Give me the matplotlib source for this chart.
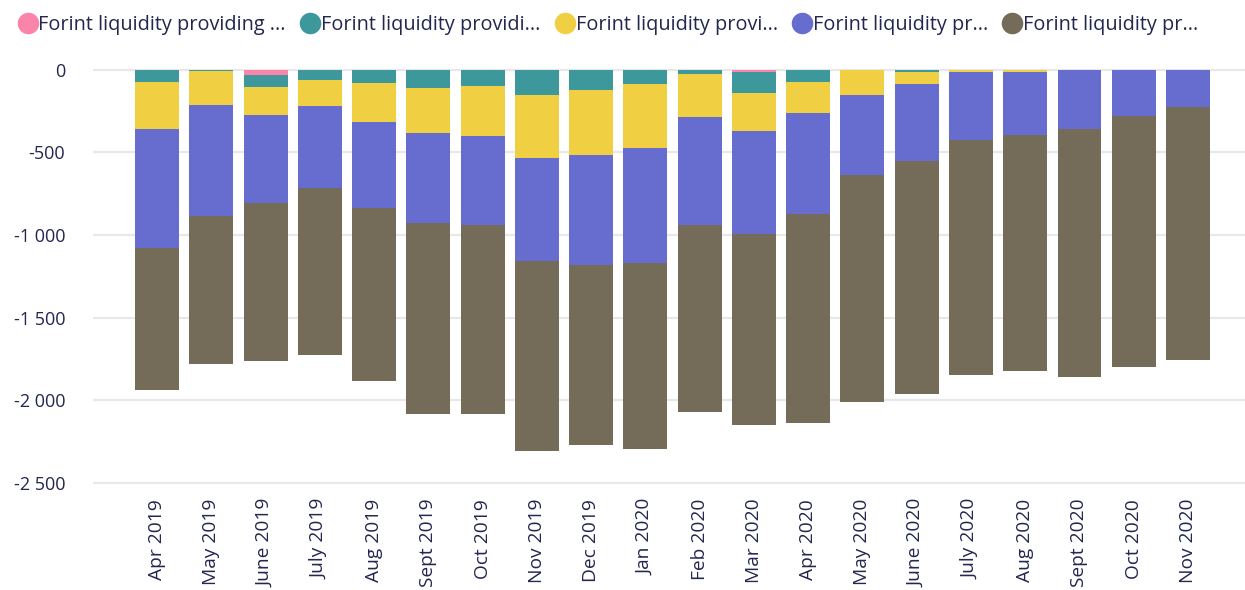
import matplotlib.pyplot as plt
from matplotlib.lines import Line2D
from matplotlib.ticker import FuncFormatter

months = ['Apr 2019', 'May 2019', 'June 2019', 'July 2019', 'Aug 2019',
          'Sept 2019', 'Oct 2019', 'Nov 2019', 'Dec 2019', 'Jan 2020',
          'Feb 2020', 'Mar 2020', 'Apr 2020', 'May 2020', 'June 2020',
          'July 2020', 'Aug 2020', 'Sept 2020', 'Oct 2020', 'Nov 2020']

# segment values, stacked downward from zero in this order
pink = [0, 0, -32, 0, 0, 0, 0, 0, 0, 0, 0, -14, 0, 0, 0, 0, 0, 0, 0, 0]
teal = [-74, -6, -73, -62, -80, -111, -99, -153, -123, -87,
        -26, -127, -74, 0, -14, 0, 0, 0, 0, 0]
yellow = [-285, -208, -169, -158, -236, -272, -302, -381, -393, -387,
          -260, -230, -188, -153, -73, -12, -12, -3, 0, 0]
blue = [-718, -671, -531, -496, -521, -542, -537, -623, -665, -695,
        -654, -623, -611, -484, -465, -413, -383, -354, -280, -224]
brown = [-861, -894, -957, -1008, -1046, -1158, -1145, -1150, -1089, -1126,
         -1131, -1155, -1264, -1371, -1408, -1420, -1428, -1500, -1517, -1531]

labels = ['Forint liquidity providing ...', 'Forint liquidity providi...',
          'Forint liquidity provi...', 'Forint liquidity pr...',
          'Forint liquidity pr...']
colors = ['#fb84aa', '#3d989b', '#f0cf42', '#666dcf', '#746b58']
text_color = '#23264f'

plt.rcParams['font.family'] = ['Open Sans', 'DejaVu Sans']

fig = plt.figure(figsize=(12.45, 5.9), dpi=100)
ax = fig.add_axes([93 / 1245, 0.1758, 1 - 93 / 1245, 0.7117])

x = list(range(len(months)))
bottom = [0] * len(months)
for vals, c in zip([pink, teal, yellow, blue, brown], colors):
    ax.bar(x, vals, bottom=bottom, width=0.81, color=c, linewidth=0)
    bottom = [b + v for b, v in zip(bottom, vals)]

ax.set_ylim(-2520, 20)
ax.set_xlim(-1.18, 20.05)
ax.set_yticks([0, -500, -1000, -1500, -2000, -2500])
ax.yaxis.set_major_formatter(FuncFormatter(lambda v, p: f'{int(v):,}'.replace(',', ' ')))
ax.set_xticks(x)
ax.set_xticklabels(months, rotation=90, va='top')
ax.tick_params(axis='x', length=0, pad=9, labelsize=13.8, labelcolor=text_color)
ax.tick_params(axis='y', length=0, pad=20, labelsize=13, labelcolor=text_color)
ax.grid(axis='y', color='#e8e8e8', linewidth=1.6)
ax.set_axisbelow(True)
for s in ax.spines.values():
    s.set_visible(False)

handles = [Line2D([], [], marker='o', linestyle='', markersize=15.5,
                  markerfacecolor=c, markeredgewidth=0) for c in colors]
fig.legend(handles, labels, loc='upper left', bbox_to_anchor=(0.003, 0.998),
           ncol=5, frameon=False, fontsize=14.3, handletextpad=0.05,
           columnspacing=0.72, handlelength=1.0, borderaxespad=0.3,
           labelcolor=text_color)

fig.savefig('out.png', dpi=100)
